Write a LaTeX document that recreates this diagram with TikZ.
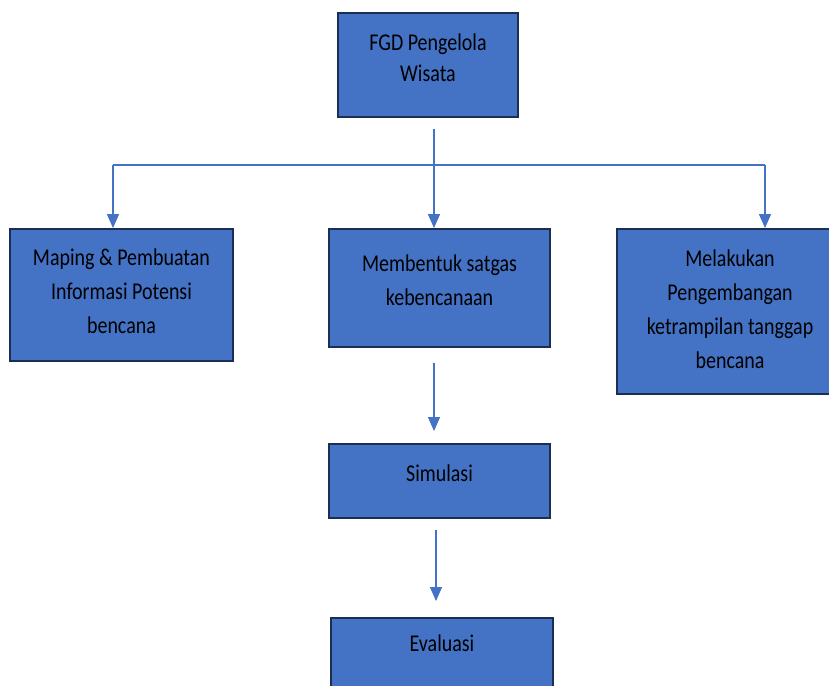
\documentclass[tikz,border=0pt]{standalone}
\usepackage{fontspec}
\setmainfont{Carlito}[FakeStretch=0.83]
\usetikzlibrary{arrows.meta, positioning, calc}
\definecolor{boxfill}{HTML}{4472C4}
\definecolor{boxline}{HTML}{1B2F55}
\definecolor{linkcol}{HTML}{4472C4}

\begin{document}
\begin{tikzpicture}[
    x=0.02cm, y=-0.02cm,
    every node/.style={font=\fontsize{13.7pt}{19.4pt}\selectfont, text=black},
    box/.style={rectangle, draw=boxline, fill=boxfill, line width=1.1pt,
                align=center, inner sep=0pt, text depth=0.3cm},
    link/.style={draw=linkcol, line width=0.75pt},
    arr/.style={link, -{Triangle[length=0.28cm, width=0.24cm]}},
]
\useasboundingbox (0,0) rectangle (829,686);
\clip (0,0) rectangle (829,686);

% ================================================================ top
\node[box, minimum width=3.6cm, minimum height=2.08cm,
      font=\fontsize{13.7pt}{17.4pt}\selectfont] (fgd) at (428,65)
    {FGD Pengelola\\Wisata};

% ================================================================ row of three
\node[box, minimum width=4.46cm, minimum height=2.64cm, text depth=0.15cm] (map) at (121.5,295)
    {Maping \& Pembuatan\\Informasi Potensi\\bencana};
\node[box, minimum width=4.42cm, minimum height=2.36cm] (sat) at (439.5,288)
    {Membentuk satgas\\kebencanaan};
\node[box, minimum width=4.52cm, minimum height=3.30cm, text depth=0.1cm] (ket) at (730,311.5)
    {Melakukan\\Pengembangan\\ketrampilan tanggap\\bencana};

% ================================================================ lower chain
\node[box, minimum width=4.42cm, minimum height=1.48cm] (sim) at (439.5,481)
    {Simulasi};
\node[box, minimum width=4.44cm, anchor=north, inner ysep=0.33cm,
      text depth=2.2cm] (eva) at (442,617) {Evaluasi};

% ================================================================ connectors
\coordinate (busL) at (113,165);
\coordinate (busM) at (434,165);
\coordinate (busR) at (765,165);

\draw[link] (busL) -- (busR);
\draw[arr] ([yshift=-0.22cm]fgd.south -| busM) -- (sat.north -| busM);
\draw[arr] (busL) -- (map.north -| busL);
\draw[arr] (busR) -- (ket.north -| busR);

\draw[arr, shorten <=0.30cm, shorten >=0.24cm]
    ([xshift=-0.11cm]sat.south) -- ([xshift=-0.11cm]sim.north);
\draw[arr, shorten <=0.22cm, shorten >=0.32cm]
    ([xshift=-0.07cm]sim.south) -- ([xshift=-0.07cm]sim.south |- eva.north);

\end{tikzpicture}
\end{document}
